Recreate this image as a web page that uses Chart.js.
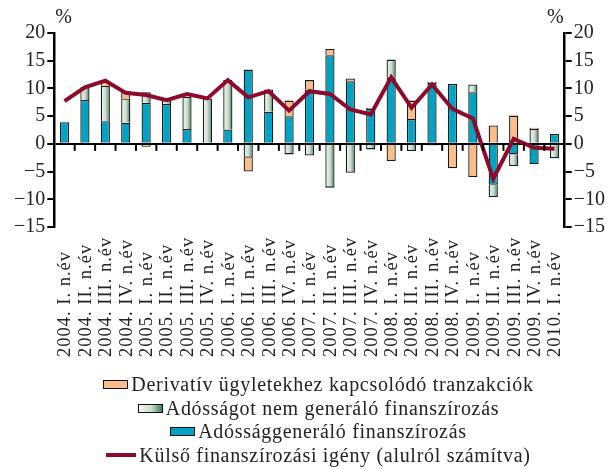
<!DOCTYPE html>
<html>
<head>
<meta charset="utf-8">
<script src="https://cdn.jsdelivr.net/npm/chart.js@4.4.0/dist/chart.umd.min.js"></script>
<style>
  body { margin: 0; background: #fff; }
  #wrap { position: relative; width: 611px; height: 469px; }
  #legend {
    position: absolute; left: 13px; top: 373px; width: 611px;
    font-family: 'Liberation Serif', serif; font-size: 20px; color: #222;
    letter-spacing: 0.7px; text-align: center;
  }
  #legend div { height: 23.5px; line-height: 23.5px; white-space: nowrap; }
  .sw { display: inline-block; width: 23px; height: 7px; border: 1.5px solid #111; margin-right: 3px; vertical-align: 2px; }
  .ln { display: inline-block; width: 30px; height: 3.5px; background: #8c0a2b; margin-right: 3px; vertical-align: 5px; }
</style>
</head>
<body>
<div id="wrap">
  <canvas id="chart" width="611" height="469"></canvas>
  <div id="legend">
    <div><span class="sw" style="background:#fbbd8a"></span>Derivatív ügyletekhez kapcsolódó tranzakciók</div>
    <div><span class="sw" style="background:linear-gradient(to right,#f2f6f2,#c9dccd 55%,#3f7a57)"></span>Adósságot nem generáló finanszírozás</div>
    <div><span class="sw" style="background:#00a3c4"></span>Adóssággeneráló finanszírozás</div>
    <div><span class="ln"></span>Külső finanszírozási igény (alulról számítva)</div>
  </div>
</div>
<script>
const labels = [
  '2004. I. n.év', '2004. II. n.év', '2004. III. n.év', '2004. IV. n.év',
  '2005. I. n.év', '2005. II. n.év', '2005. III. n.év', '2005. IV. n.év',
  '2006. I. n.év', '2006. II. n.év', '2006. III. n.év', '2006. IV. n.év',
  '2007. I. n.év', '2007. II. n.év', '2007. III. n.év', '2007. IV. n.év',
  '2008. I. n.év', '2008. II. n.év', '2008. III. n.év', '2008. IV. n.év',
  '2009. I. n.év', '2009. II. n.év', '2009. III. n.év', '2009. IV. n.év',
  '2010. I. n.év'
];

// Adóssággeneráló finanszírozás
const debtFin = [3.9, 7.9, 4.1, 3.8, 7.4, 7.2, 2.7, -0.2, 2.6, 13.4, 5.8, 5.0, 9.8,
  16.0, 11.3, 6.3, 12.0, 4.5, 11.0, 10.8, 9.3, -7.4, -1.9, -3.7, 1.8];
// Adósságot nem generáló finanszírozás
const nonDebtFin = [0, 2.3, 6.4, 4.4, 1.9, 0.9, 5.8, 8.2, 8.9, -2.5, 4.0, -1.9, -2.1,
  -7.9, -5.2, -1.0, 3.2, -1.3, -0.3, 0, 1.4, -2.2, -2.1, 2.7, -2.6];
// Derivatív ügyletekhez kapcsolódó tranzakciók
const derivatives = [0, 0, 0.9, 1.1, -0.5, -0.2, 0, 0, 0, -2.5, 0, 2.8, 1.7,
  1.1, 0.5, 0.2, -3.1, 3.3, 0.2, -4.4, -6.0, 3.3, 5.1, 0.2, 0];
// Külső finanszírozási igény (alulról számítva)
const financingNeed = [7.7, 10.2, 11.4, 9.2, 8.8, 7.9, 9.0, 8.2, 11.5, 8.4, 9.5, 6.0, 9.5,
  9.0, 6.2, 5.3, 12.0, 6.5, 10.7, 6.3, 4.6, -6.3, 0.9, -0.7, -0.9];

const yTicks = { min: -15, max: 20, step: 5 };
const FONT = "'Liberation Serif', serif";
const CAT_PCT = 0.9, BAR_PCT = 0.5;

function minus(v) {
  return String(v).replace('-', '\u2212');
}

// gradient for the gray bars, light on the left, dark green on the right
function grayFill(ctx) {
  const chart = ctx.chart;
  const xs = chart.scales.x;
  if (!chart.chartArea || !xs) return '#c9dccd';
  const x = xs.getPixelForValue(ctx.dataIndex);
  const w = (chart.chartArea.width / labels.length) * CAT_PCT * BAR_PCT;
  const g = chart.ctx.createLinearGradient(x - w / 2, 0, x + w / 2, 0);
  g.addColorStop(0, '#f2f6f2');
  g.addColorStop(0.55, '#c9dccd');
  g.addColorStop(1, '#3f7a57');
  return g;
}

// x labels (bottom-aligned), tick marks on the zero line, % signs
const decorations = {
  id: 'decorations',
  afterDraw(chart) {
    const ctx = chart.ctx;
    const xs = chart.scales.x;
    const ys = chart.scales.y;
    const y0 = ys.getPixelForValue(0);
    ctx.save();
    ctx.strokeStyle = '#000';
    ctx.lineWidth = 2;
    for (let i = 0; i < labels.length - 1; i++) {
      const bx = (xs.getPixelForValue(i) + xs.getPixelForValue(i + 1)) / 2;
      ctx.beginPath();
      ctx.moveTo(bx, y0);
      ctx.lineTo(bx, y0 + 7);
      ctx.stroke();
    }
    ctx.fillStyle = '#222';
    ctx.font = '18.5px ' + FONT;
    ctx.letterSpacing = '1px';
    ctx.textAlign = 'left';
    ctx.textBaseline = 'middle';
    labels.forEach((lab, i) => {
      ctx.save();
      ctx.translate(xs.getPixelForValue(i), xs.top + 130);
      ctx.rotate(-Math.PI / 2);
      ctx.fillText(lab, 0, 1);
      ctx.restore();
    });
    ctx.letterSpacing = '0px';
    ctx.font = '20px ' + FONT;
    ctx.textBaseline = 'alphabetic';
    ctx.textAlign = 'left';
    ctx.fillText('%', chart.chartArea.left + 1, 23);
    ctx.textAlign = 'right';
    ctx.fillText('%', chart.chartArea.right - 1, 23);
    ctx.restore();
  }
};

const yAxis = (position, onArea) => ({
  position,
  stacked: true,
  min: yTicks.min,
  max: yTicks.max,
  ticks: {
    stepSize: yTicks.step,
    color: '#222',
    padding: 2,
    font: { family: FONT, size: 20 },
    callback: v => minus(v)
  },
  grid: {
    drawOnChartArea: onArea,
    color: c => (c.tick && c.tick.value === 0 ? '#000' : 'rgba(0,0,0,0)'),
    lineWidth: 2,
    tickColor: '#000',
    tickLength: 7,
    tickWidth: 2
  },
  border: { display: true, color: '#000', width: 2.5 }
});

new Chart(document.getElementById('chart'), {
  data: {
    labels,
    datasets: [
      {
        type: 'line',
        label: 'Külső finanszírozási igény (alulról számítva)',
        data: financingNeed,
        borderColor: '#8c0a2b',
        borderWidth: 4,
        pointRadius: 0,
        tension: 0,
        stack: 'line',
        order: 0
      },
      {
        type: 'bar',
        label: 'Adóssággeneráló finanszírozás',
        data: debtFin,
        backgroundColor: '#00a3c4',
        borderColor: '#1a1a1a',
        borderWidth: 1.3,
        stack: 'bars',
        order: 1,
        categoryPercentage: CAT_PCT,
        barPercentage: BAR_PCT
      },
      {
        type: 'bar',
        label: 'Adósságot nem generáló finanszírozás',
        data: nonDebtFin,
        backgroundColor: grayFill,
        borderColor: '#1a1a1a',
        borderWidth: 1.3,
        stack: 'bars',
        order: 1,
        categoryPercentage: CAT_PCT,
        barPercentage: BAR_PCT
      },
      {
        type: 'bar',
        label: 'Derivatív ügyletekhez kapcsolódó tranzakciók',
        data: derivatives,
        backgroundColor: '#fbbd8a',
        borderColor: '#1a1a1a',
        borderWidth: 1.3,
        stack: 'bars',
        order: 1,
        categoryPercentage: CAT_PCT,
        barPercentage: BAR_PCT
      }
    ]
  },
  options: {
    responsive: false,
    animation: false,
    layout: { padding: { left: 12, right: 4, top: 33, bottom: 109 } },
    plugins: {
      legend: { display: false },
      tooltip: { enabled: false }
    },
    scales: {
      x: {
        stacked: true,
        grid: { display: false },
        border: { display: false },
        ticks: { display: false },
        afterFit: s => { s.height = 133; }
      },
      y: yAxis('left', true),
      y2: yAxis('right', false)
    }
  },
  plugins: [decorations]
});
</script>
</body>
</html>
